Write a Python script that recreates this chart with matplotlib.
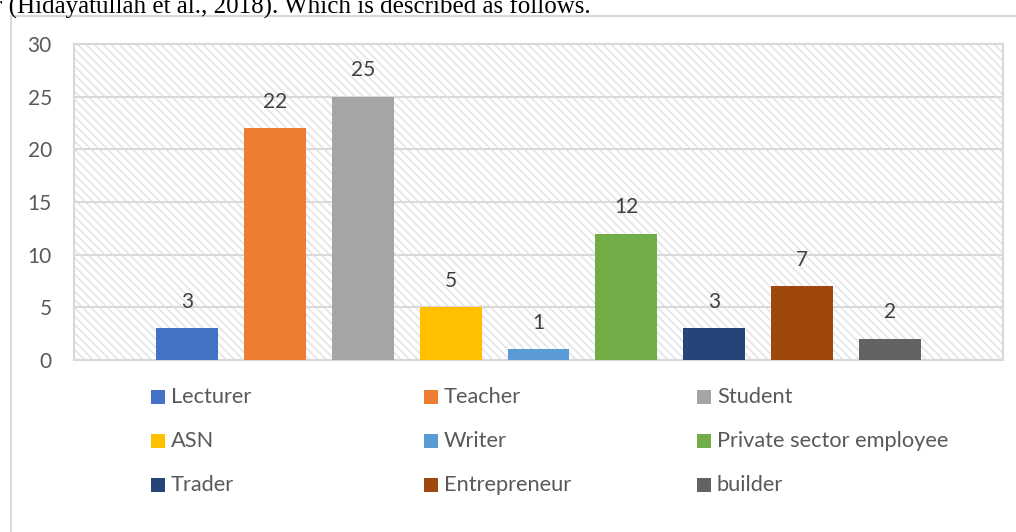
import matplotlib.pyplot as plt
from matplotlib.patches import Rectangle
from matplotlib.lines import Line2D

# Datos
categorias = ['Lecturer', 'Teacher', 'Student', 'ASN', 'Writer',
              'Private sector employee', 'Trader', 'Entrepreneur', 'builder']
valores = [3, 22, 25, 5, 1, 12, 3, 7, 2]
colores = ['#4472C4', '#ED7D31', '#A5A5A5', '#FFC000', '#5B9BD5',
           '#70AD47', '#264478', '#9E480E', '#636363']
yticks = [0, 5, 10, 15, 20, 25, 30]

plt.rcParams['font.family'] = ['Lato', 'DejaVu Sans']
plt.rcParams['hatch.color'] = '#e4e4e4'
plt.rcParams['hatch.linewidth'] = 1.2

W, H = 1016, 532
fig = plt.figure(figsize=(W / 100, H / 100), dpi=100)

# texto del documento (cortado arriba)
fig.text(-6 / W, 1 - 14 / H, 'r (Hidayatullah et al., 2018). Which is described as follows.',
         family='Liberation Serif', fontsize=18, color='black', va='baseline', ha='left')

# borde del gráfico
fig.add_artist(Line2D([10.5 / W, 10.5 / W], [0, 1 - 15.5 / H], color='#d9d9d9', lw=1.5))
fig.add_artist(Line2D([10.5 / W, 1.0], [1 - 15.5 / H, 1 - 15.5 / H], color='#d9d9d9', lw=1.5))

ax = fig.add_axes([74 / W, 1 - 360 / H, (1003 - 74) / W, (360 - 44) / H])

# fondo rayado
ax.add_patch(Rectangle((0, 0), 1, 1, transform=ax.transAxes, facecolor='white',
                       edgecolor='#e4e4e4', hatch='\\\\\\\\', linewidth=0, zorder=0))

x = list(range(len(valores)))
barras = ax.bar(x, valores, width=0.705, color=colores, zorder=3)

for xi, v in zip(x, valores):
    ax.annotate(str(v), (xi, v), xytext=(0, 12), textcoords='offset points',
                ha='center', va='bottom', fontsize=15, color='#404040')

ax.set_xlim(-1.285, len(valores) - 1 + 1.285)
ax.set_ylim(0, 30)
ax.set_yticks(yticks)
ax.set_xticks([])
ax.yaxis.grid(True, color='#d9d9d9', linewidth=1.5, zorder=1)
ax.set_axisbelow(True)
ax.tick_params(axis='y', length=0, pad=16, labelsize=15, labelcolor='#595959')
for s in ax.spines.values():
    s.set_color('#d9d9d9')
    s.set_linewidth(1.5)

# leyenda (3 columnas, orden por filas como Excel)
col_x = [151, 424, 697]
fila_y = [397, 441, 485]
for i, (nombre, c) in enumerate(zip(categorias, colores)):
    fx = col_x[i % 3]
    fy = fila_y[i // 3]
    fig.add_artist(Rectangle((fx / W, 1 - (fy + 7) / H), 14 / W, 14 / H,
                             facecolor=c, edgecolor='none', transform=fig.transFigure))
    fig.text((fx + 20) / W, 1 - fy / H, nombre, fontsize=15.7, color='#595959',
             va='center', ha='left')

fig.savefig('out.png', dpi=100)
